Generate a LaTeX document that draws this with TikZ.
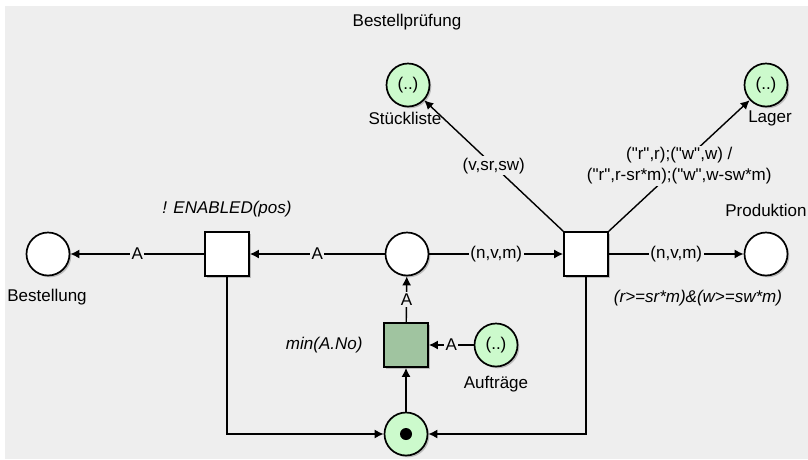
\documentclass[tikz,border=0pt]{standalone}
\usepackage{fontspec}
\setmainfont{Liberation Sans}
\usetikzlibrary{shadows,arrows.meta}
\definecolor{bg}{HTML}{EEEEEE}
\definecolor{pgreen}{HTML}{CCFACC}
\definecolor{tgreen}{HTML}{A0C4A0}
\newcommand{\dq}{\XeTeXglyph\XeTeXcharglyph"22\relax}
\begin{document}
\begin{tikzpicture}[x=1pt,y=-1pt,
  every node/.style={font=\fontsize{17}{20}\selectfont},
  shad/.style={drop shadow={shadow xshift=1.8pt,shadow yshift=-1.8pt,opacity=0.45}},
  place/.style={circle,draw,line width=1.7pt,minimum size=43pt,inner sep=0pt,fill=white,shad},
  gplace/.style={place,fill=pgreen},
  trans/.style={rectangle,draw,line width=1.7pt,minimum size=44pt,inner sep=0pt,fill=white,shad},
  arc/.style={line width=1.4pt,-{Latex[length=9pt,width=9pt]}},
  lab/.style={fill=bg,inner sep=1.5pt},
  ital/.style={font=\fontsize{17}{20}\selectfont\itshape}]
\useasboundingbox (0,0) rectangle (808,459);
\fill[bg] (5,6) rectangle (808,459);

% nodes
\node[place] (best) at (48,254) {};
\node (bestl) at (47,297) {Bestellung};
\node[trans] (ten) at (227,254) {};
\node[ital] (tenl) at (227,209) {! ENABLED(pos)};
\node[place] (mid) at (407,254) {};
\node[trans,fill=tgreen] (tmin) at (406,345) {};
\node[ital,anchor=east] (tminl) at (366,345) {min(A.No)};
\node[gplace] (bot) at (406,434) {};
\fill (bot.center) circle (6);
\node[gplace] (auf) at (496,345) {(..)};
\node (aufl) at (496,384) {Aufträge};
\node[trans] (tprod) at (586,254) {};
\node[ital] (guard) at (698,298) {(r>=sr*m)\&(w>=sw*m)};
\node[place] (prod) at (766,254) {};
\node (prodl) at (766,210) {Produktion};
\node[gplace] (st) at (408,85) {(..)};
\node (stl) at (405,118) {Stückliste};
\node[gplace] (lag) at (766,85) {(..)};
\node (lagl) at (770,118) {Lager};
\node (bp) at (407,22) {Bestellprüfung};

% arcs
\draw[arc] (ten) -- node[lab]{A} (best);
\draw[arc] (mid) -- node[lab]{A} (ten);
\draw[arc] (mid) -- node[lab]{(n,v,m)} (tprod);
\draw[arc] (tprod) -- node[lab]{(n,v,m)} (prod);
\draw[arc] (tmin) -- node[lab]{A} (mid);
\draw[arc] (auf) -- node[lab]{A} (tmin);
\draw[arc] (bot) -- (tmin);
\draw[arc] (ten.south) |- (bot);
\draw[arc] (tprod.south) |- (bot);
\draw[arc] (tprod.north west) -- node[lab]{(v,sr,sw)} (st);
\draw[arc] (tprod.north east) -- node[lab,align=center,font=\fontsize{17}{21}\selectfont]{(\dq r\dq,r);(\dq w\dq,w) /\\(\dq r\dq,r-sr*m);(\dq w\dq,w-sw*m)} (lag);
\end{tikzpicture}
\end{document}
